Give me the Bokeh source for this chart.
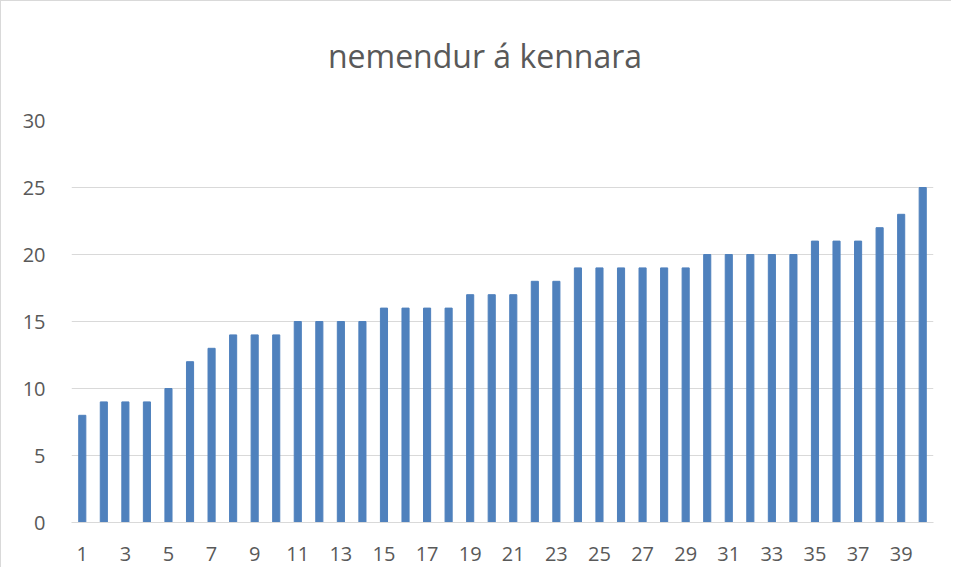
from bokeh.plotting import figure
from bokeh.models import FixedTicker, Range1d, Div
from bokeh.layouts import column
from bokeh.embed import file_html
from bokeh.resources import INLINE

categories = list(range(1, 41))
values = [8, 9, 9, 9, 10, 12, 13, 14, 14, 14,
          15, 15, 15, 15, 16, 16, 16, 16, 17, 17,
          17, 18, 18, 19, 19, 19, 19, 19, 19, 20,
          20, 20, 20, 20, 21, 21, 21, 22, 23, 25]
x_tick_labels = list(range(1, 41, 2))
y_ticks = [0, 5, 10, 15, 20, 25, 30]
title_text = "nemendur á kennara"

FONT = "Open Sans"
TXT = "#595959"

title_div = Div(text=title_text, width=940, height=68,
                styles={"font-family": FONT, "font-size": "32px", "color": TXT,
                        "text-align": "center", "padding-top": "28px",
                        "padding-left": "18px", "box-sizing": "border-box",
                        "line-height": "normal", "background": "white"})

p = figure(frame_width=862, frame_height=402, output_backend="svg", toolbar_location=None,
           x_range=Range1d(0.5, 40.5), y_range=Range1d(0, 30),
           min_border_left=70, min_border_right=8, min_border_top=41, min_border_bottom=45)

p.vbar(x=categories, top=values, width=0.33, color="#4F81BD")

p.outline_line_color = None
p.background_fill_color = "white"
p.border_fill_color = "white"

p.xgrid.grid_line_color = None
p.ygrid.grid_line_color = "#D9D9D9"
p.ygrid.ticker = FixedTicker(ticks=y_ticks)

p.xaxis.ticker = FixedTicker(ticks=x_tick_labels)
p.xaxis.axis_line_color = "#D9D9D9"
p.xaxis.major_tick_line_color = None
p.xaxis.minor_tick_line_color = None
p.xaxis.major_label_text_font = FONT
p.xaxis.major_label_text_font_size = "20px"
p.xaxis.major_label_text_color = TXT
p.xaxis.major_label_standoff = 18

p.yaxis.ticker = FixedTicker(ticks=y_ticks)
p.yaxis.axis_line_color = None
p.yaxis.major_tick_line_color = None
p.yaxis.minor_tick_line_color = None
p.yaxis.major_label_text_font = FONT
p.yaxis.major_label_text_font_size = "20px"
p.yaxis.major_label_text_color = TXT
p.yaxis.major_label_standoff = 20

layout = column(title_div, p, spacing=0)
layout.styles = {"border-left": "1px solid #d9d9d9", "border-top": "1px solid #d9d9d9"}

open("out.html", "w").write(file_html(layout, INLINE))
